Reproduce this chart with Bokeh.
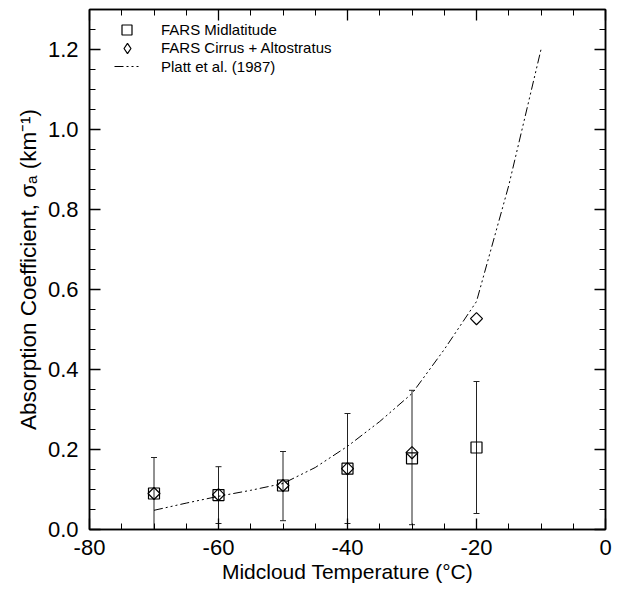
import math
from bokeh.plotting import figure
from bokeh.models import (LinearAxis, SingleIntervalTicker, Range1d, Whisker,
                          ColumnDataSource, Legend, LegendItem, TeeHead,
                          PrintfTickFormatter, CustomJSTickFormatter)
from bokeh.embed import file_html
from bokeh.resources import INLINE

# ---- data ----
temp = [-70, -60, -50, -40, -30, -20]
midlat = [0.090, 0.086, 0.110, 0.152, 0.178, 0.205]
err_upper = [0.180, 0.157, 0.195, 0.290, 0.348, 0.370]
err_lower = [0.000, 0.015, 0.022, 0.015, 0.012, 0.040]
cirrus = [0.090, 0.087, 0.110, 0.152, 0.192, 0.527]
platt_temp = [-70, -65, -60, -55, -50, -45, -40, -35, -30, -25, -20, -15, -10]
platt_sigma = [0.048, 0.066, 0.083, 0.098, 0.115, 0.155, 0.208, 0.27, 0.34, 0.45, 0.57, 0.86, 1.20]

FONT = "Liberation Sans"
FRAME_H = 520

p = figure(frame_width=516, frame_height=FRAME_H, x_range=Range1d(-80, 0), y_range=Range1d(0, 1.3),
           output_backend="svg", toolbar_location=None,
           min_border_left=89, min_border_right=7, min_border_top=9, min_border_bottom=61,
           x_axis_type=None, y_axis_type=None)
p.xgrid.visible = False
p.ygrid.visible = False
p.outline_line_color = "black"
p.outline_line_width = 1.5
p.background_fill_color = "white"
p.border_fill_color = "white"

def style(ax, labels=True):
    ax.axis_line_color = "black"
    ax.axis_line_width = 1.5
    ax.major_tick_in = 11
    ax.major_tick_out = 0
    ax.minor_tick_in = 6
    ax.minor_tick_out = 0
    ax.major_tick_line_color = "black"
    ax.minor_tick_line_color = "black"
    ax.major_tick_line_width = 1.3
    ax.minor_tick_line_width = 1
    if labels:
        ax.major_label_text_font = FONT
        ax.major_label_text_font_size = "22px"
        ax.major_label_text_color = "black"
        ax.axis_label_text_font = FONT
        ax.axis_label_text_font_size = "21px"
        ax.axis_label_text_font_style = "normal"
        ax.axis_label_text_color = "black"
    else:
        ax.formatter = CustomJSTickFormatter(code="return ''")
        ax.major_label_standoff = 0
        ax.axis_label = None

xb = LinearAxis(ticker=SingleIntervalTicker(interval=20, num_minor_ticks=4),
                formatter=PrintfTickFormatter(format="%d"),
                axis_label="Midcloud Temperature (°C)")
style(xb)
xb.major_label_standoff = 10
xb.axis_label_standoff = 2
p.add_layout(xb, "below")

yl = LinearAxis(ticker=SingleIntervalTicker(interval=0.2, num_minor_ticks=4),
                formatter=PrintfTickFormatter(format="%.1f"),
                axis_label="Absorption Coefficient, σₐ (km⁻¹)")
style(yl)
yl.axis_label_text_font_size = "22.5px"
yl.major_label_standoff = 11
yl.axis_label_standoff = 4
p.add_layout(yl, "left")

xt = LinearAxis(ticker=SingleIntervalTicker(interval=20, num_minor_ticks=4))
style(xt, labels=False)
p.add_layout(xt, "above")
yr = LinearAxis(ticker=SingleIntervalTicker(interval=0.2, num_minor_ticks=4))
style(yr, labels=False)
p.add_layout(yr, "right")

# error bars
src = ColumnDataSource(dict(x=temp, upper=err_upper, lower=err_lower))
wh = Whisker(source=src, base="x", upper="upper", lower="lower", dimension="height",
             line_color="#222222", line_width=1,
             upper_head=TeeHead(size=6, line_color="#222222", line_width=1),
             lower_head=TeeHead(size=6, line_color="#222222", line_width=1))
p.add_layout(wh)

r_platt = p.line(platt_temp, platt_sigma, line_color="black", line_width=1,
                 line_dash="9 3 2 3 2 3 2 3")
r_sq = p.scatter(temp, midlat, marker="square", size=11, fill_color=None,
                 line_color="black", line_width=1.2)
r_di = p.scatter(temp, cirrus, marker="square", size=8.5, angle=math.pi / 4,
                 fill_color=None, line_color="black", line_width=1.2)
# hidden legend-only proxy for the diamond symbol (legend glyphs are not rotated)
r_di_key = p.scatter(temp, cirrus, marker="diamond", size=12, fill_color=None,
                     line_color="black", line_width=1.2, visible=False)

# one legend per row, so marker sizes and row spacing can be set independently
rows = [("FARS Midlatitude", r_sq, 25, 20, 25, 22),
        ("FARS Cirrus + Altostratus", r_di_key, 26, 38.5, 26, 21),
        ("Platt et al. (1987)", r_platt, 18, 57, 25, 22)]
for label, rend, gh, center, gw, ls in rows:
    lg = Legend(items=[LegendItem(label=label, renderers=[rend])],
                location=(25, FRAME_H - center - gh / 2), padding=0, margin=0, spacing=0,
                glyph_width=gw, glyph_height=gh, label_height=gh, label_standoff=ls,
                border_line_color=None, background_fill_alpha=0,
                inactive_fill_alpha=0, click_policy="none",
                label_text_font=FONT, label_text_font_size="15px", label_text_color="black")
    p.add_layout(lg, "center")

open("out.html", "w").write(file_html(p, INLINE))
